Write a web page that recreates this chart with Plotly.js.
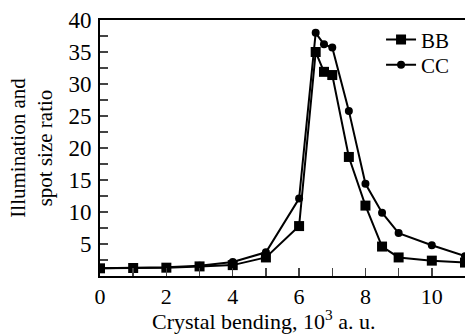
<!DOCTYPE html>
<html><head><meta charset="utf-8">
<script src="https://cdn.plot.ly/plotly-3.0.1.min.js"></script>
<style>html,body{margin:0;padding:0;background:#fff}#chart{width:465px;height:335px}</style>
</head><body><div id="chart"></div>
<script>
const xBB = [0, 1, 2, 3, 4, 5, 6, 6.5, 6.75, 7, 7.5, 8, 8.5, 9, 10, 11];
const yBB = [1.2, 1.25, 1.3, 1.5, 1.7, 2.9, 7.8, 35.0, 31.9, 31.4, 18.6, 11.0, 4.6, 2.9, 2.4, 2.1];
const xCC = [0, 1, 2, 3, 4, 5, 6, 6.5, 6.75, 7, 7.5, 8, 8.5, 9, 10, 11];
const yCC = [1.2, 1.25, 1.35, 1.6, 2.2, 3.7, 12.1, 38.0, 36.2, 35.7, 25.8, 14.4, 9.9, 6.7, 4.8, 3.1];
const yTicks = [5, 10, 15, 20, 25, 30, 35, 40];
const xTicks = [0, 2, 4, 6, 8, 10];
const xTitle = 'Crystal bending, 10<sup>3</sup> a. u.';
const yTitle = 'Illumination and<br>spot size ratio';
const font = 'Liberation Serif, Times New Roman, serif';

const traces = [
  {x: xBB, y: yBB, name: 'BB', mode: 'lines+markers', line: {color: '#000', width: 2},
   marker: {symbol: 'square', size: 10, color: '#000'}, legend: 'legend'},
  {x: xCC, y: yCC, name: 'CC', mode: 'lines+markers', line: {color: '#000', width: 2},
   marker: {symbol: 'circle', size: 8, color: '#000'}, legend: 'legend2'}
];
const legendBase = {xanchor: 'left', yanchor: 'middle', bgcolor: 'rgba(0,0,0,0)',
  font: {family: font, size: 21, color: '#000'}, itemwidth: 30, borderwidth: 0};
const layout = {
  width: 465, height: 335,
  margin: {l: 100, r: 0, t: 20, b: 59},
  paper_bgcolor: '#fff', plot_bgcolor: '#fff',
  font: {family: font, size: 23, color: '#000'},
  showlegend: true,
  legend: Object.assign({}, legendBase, {x: 0.77, y: 0.922}),
  legend2: Object.assign({}, legendBase, {x: 0.77, y: 0.824}),
  annotations: [{text: xTitle, xref: 'paper', yref: 'paper', x: 0.449, y: -0.2305,
    xanchor: 'center', yanchor: 'bottom', showarrow: false, borderpad: 0,
    font: {family: font, size: 22, color: '#000'}}],
  xaxis: {range: [0, 11], tickvals: xTicks, ticks: 'inside', ticklen: 8, tickwidth: 1.5,
          minor: {dtick: 1, ticks: 'inside', ticklen: 8, tickwidth: 1.5},
          showline: true, linewidth: 2, linecolor: '#000', mirror: true, showgrid: false, zeroline: false,
          tickfont: {family: font, size: 22}, ticklabelstandoff: 0},
  yaxis: {range: [0, 40], tickvals: yTicks, ticks: 'inside', ticklen: 8, tickwidth: 1.5,
          minor: {dtick: 2.5, ticks: 'inside', ticklen: 8, tickwidth: 1.5},
          showline: true, linewidth: 2, linecolor: '#000', showgrid: false, zeroline: false,
          tickfont: {family: font, size: 23}, ticklabelstandoff: 2,
          title: {text: yTitle, font: {family: font, size: 21}, standoff: 10}}
};
Plotly.newPlot('chart', traces, layout, {displayModeBar: false, staticPlot: true});
</script></body></html>
